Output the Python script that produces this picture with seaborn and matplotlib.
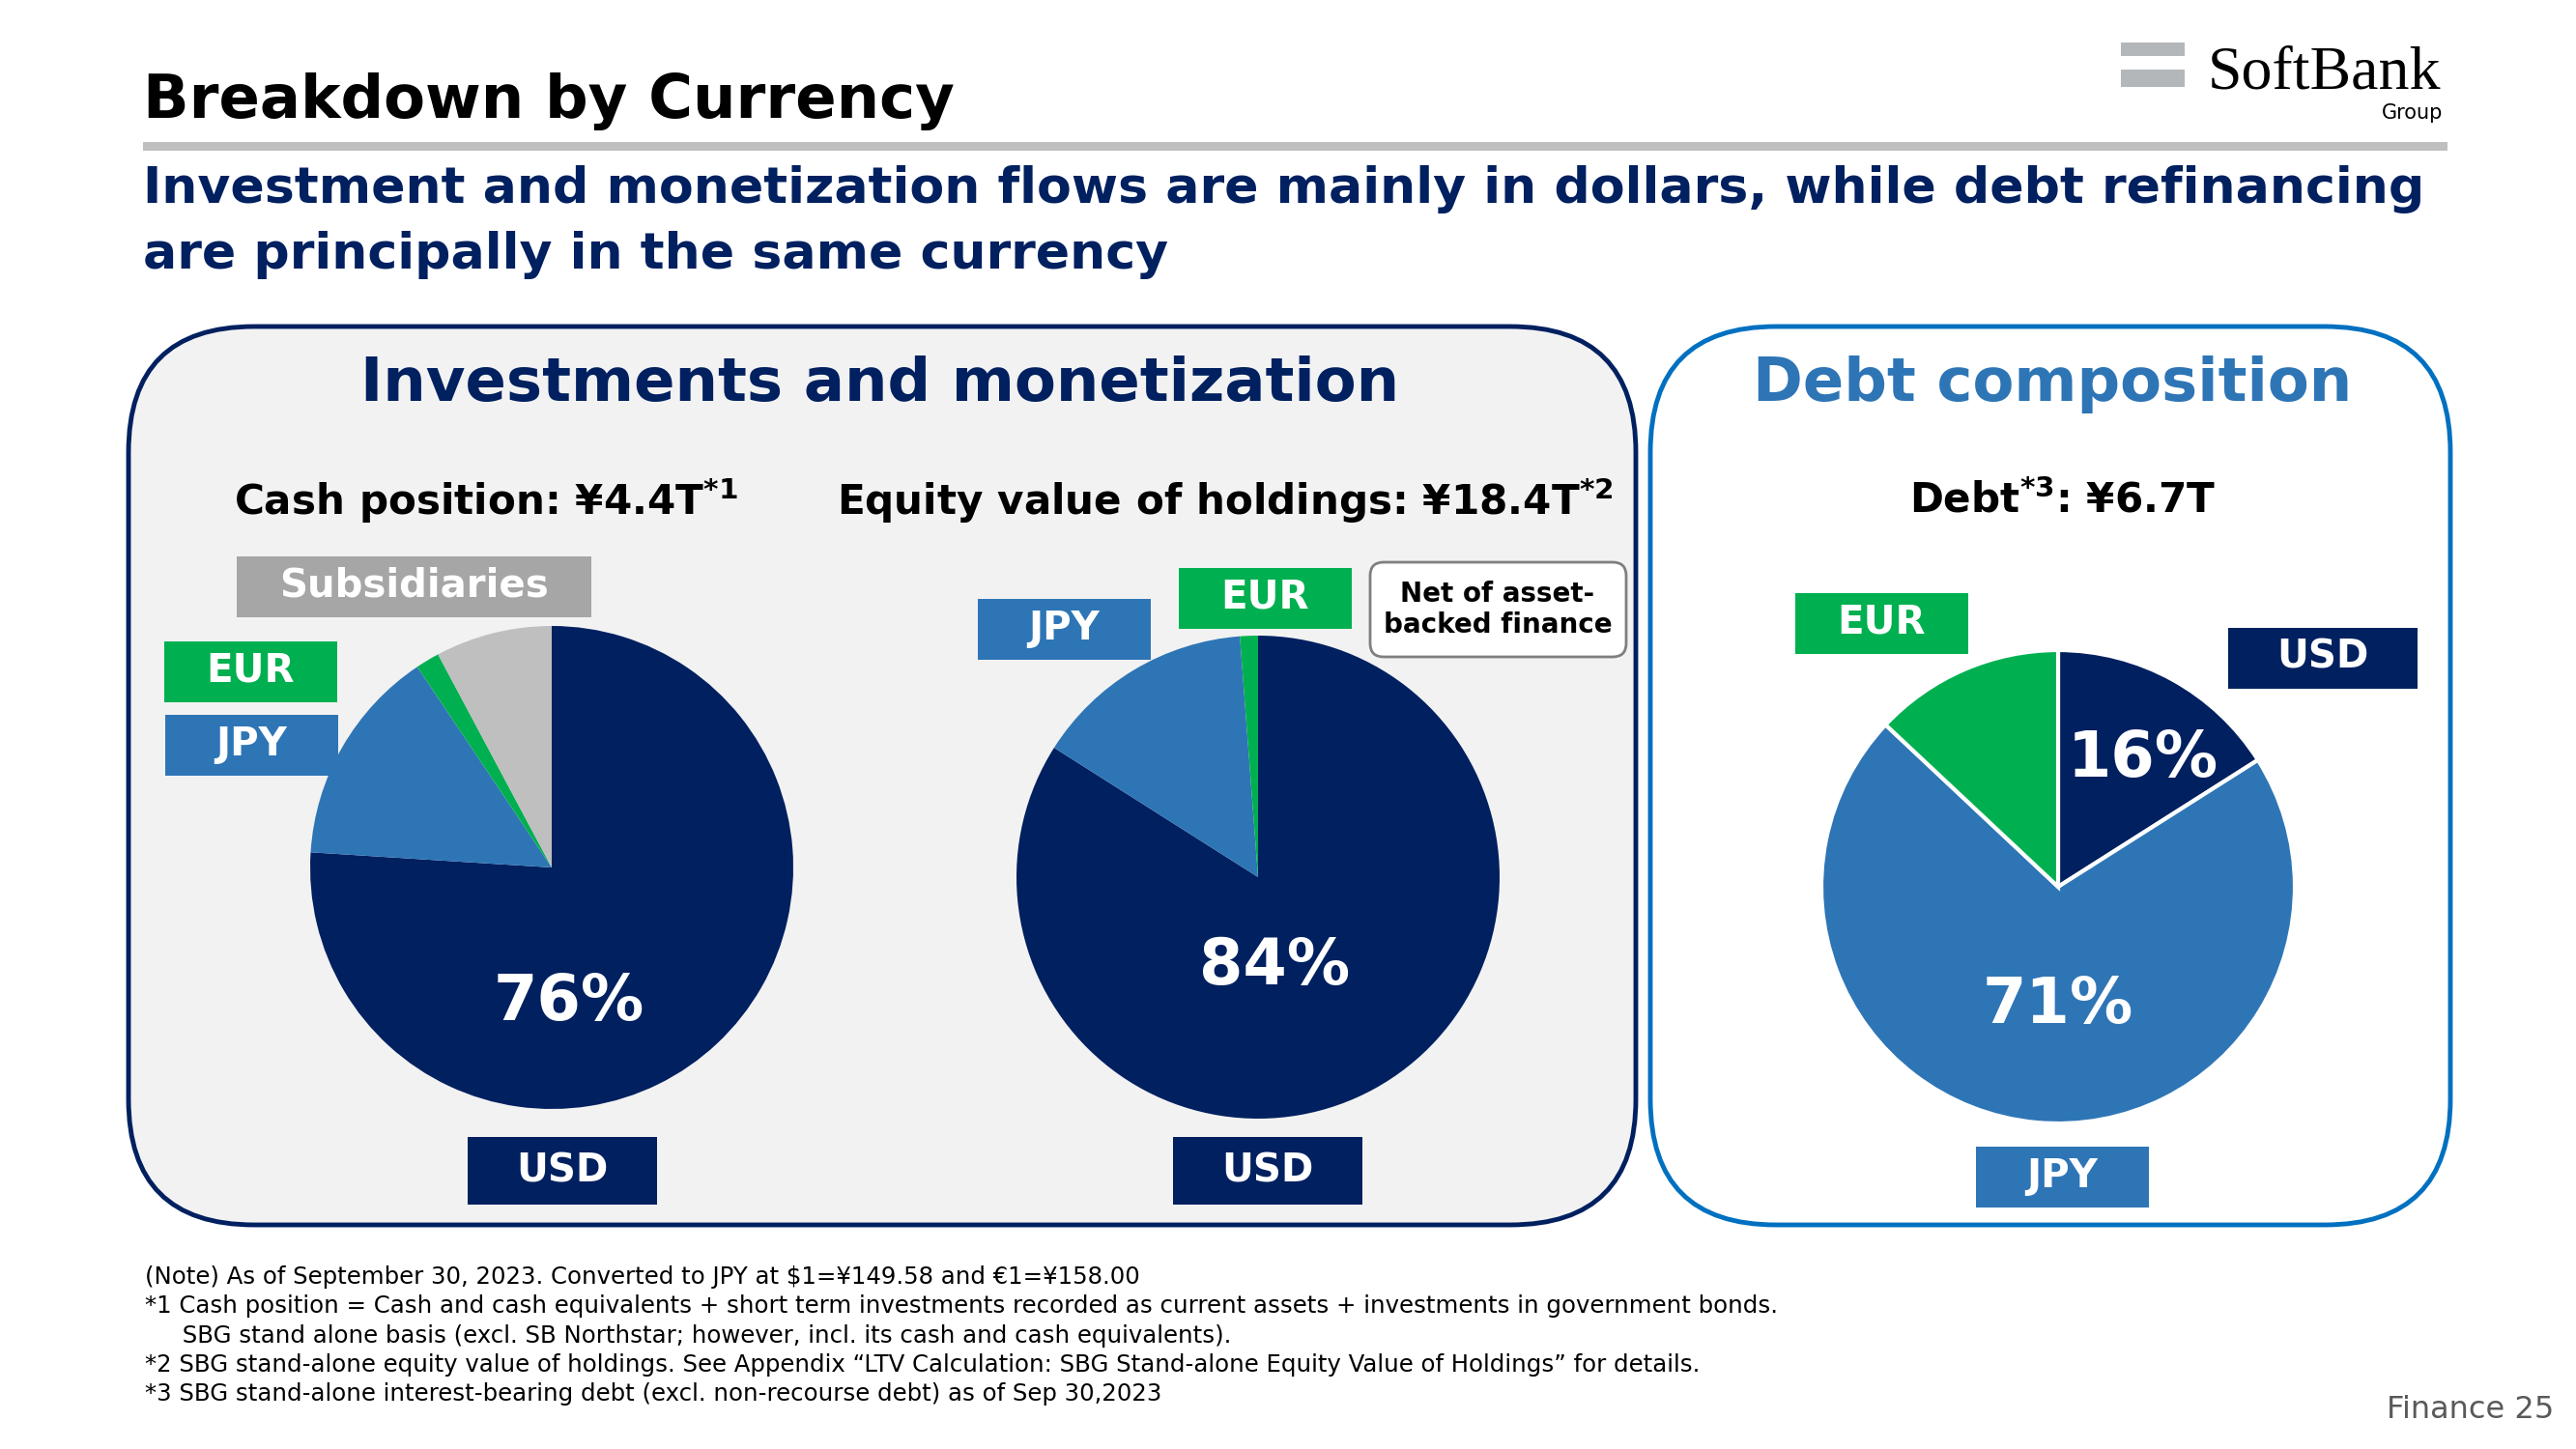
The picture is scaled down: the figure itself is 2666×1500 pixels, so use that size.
import matplotlib
matplotlib.use("Agg")
import matplotlib.pyplot as plt
import seaborn as sns
from matplotlib.patches import FancyBboxPatch, Rectangle

# --- data ---
cash_labels = ["USD", "JPY", "EUR", "Subsidiaries"]
cash_values = [76, 14.6, 1.6, 7.8]
equity_labels = ["USD", "JPY", "EUR"]
equity_values = [84, 14.8, 1.2]
debt_labels = ["USD", "JPY", "EUR"]
debt_values = [16, 71, 13]

footnotes = [
    "(Note) As of September 30, 2023. Converted to JPY at $1=¥149.58 and €1=¥158.00",
    "*1 Cash position = Cash and cash equivalents + short term investments recorded as current assets + investments in government bonds.",
    "     SBG stand alone basis (excl. SB Northstar; however, incl. its cash and cash equivalents).",
    "*2 SBG stand-alone equity value of holdings. See Appendix \u201cLTV Calculation: SBG Stand-alone Equity Value of Holdings\u201d for details.",
    "*3 SBG stand-alone interest-bearing debt (excl. non-recourse debt) as of Sep 30,2023",
]

# --- style ---
navy = "#002060"
jpy_blue = "#2E75B6"
green = "#00B050"
sub_grey = "#BFBFBF"
box_grey = "#A6A6A6"
palette = dict(zip(["USD", "JPY", "EUR", "Subsidiaries"],
                   sns.color_palette([navy, jpy_blue, green, sub_grey])))

sns.set_theme(style="white")
plt.rcParams["font.family"] = ["DejaVu Sans"]
plt.rcParams["mathtext.fontset"] = "dejavusans"
plt.rcParams["text.color"] = "black"

W, H, DPI = 2666, 1500, 100
fig = plt.figure(figsize=(W / DPI, H / DPI), dpi=DPI, facecolor="white")

# background canvas in pixel coords (y down)
bg = fig.add_axes([0, 0, 1, 1])
bg.set_xlim(0, W)
bg.set_ylim(H, 0)
bg.axis("off")

# header
bg.text(148, 105, "Breakdown by Currency", fontsize=45, fontweight="bold", color="black", va="center")
bg.add_patch(Rectangle((148, 147), 2385, 9, fc="#BFBFBF", ec="none"))
bg.text(148, 196, "Investment and monetization flows are mainly in dollars, while debt refinancing",
        fontsize=37.5, fontweight="bold", color=navy, va="center")
bg.text(148, 264, "are principally in the same currency",
        fontsize=37.5, fontweight="bold", color=navy, va="center")

# logo
bg.add_patch(Rectangle((2195, 44), 66, 14, fc="#B4B7BA", ec="none"))
bg.add_patch(Rectangle((2195, 72), 66, 18, fc="#B4B7BA", ec="none"))
bg.text(2526, 92, "SoftBank", family="Liberation Serif", fontsize=46, ha="right", va="baseline", color="black")
bg.text(2528, 117, "Group", fontsize=15, ha="right", va="center", color="black")

# panels
bg.add_patch(FancyBboxPatch((133, 338), 1560, 930, boxstyle="round,pad=0,rounding_size=130",
                            fc="#F2F2F2", ec=navy, lw=3.5))
bg.add_patch(FancyBboxPatch((1708, 338), 828, 930, boxstyle="round,pad=0,rounding_size=130",
                            fc="white", ec="#0070C0", lw=3.5))
bg.text(911, 398, "Investments and monetization", fontsize=45, fontweight="bold", color=navy,
        ha="center", va="center")
bg.text(2124, 398, "Debt composition", fontsize=45, fontweight="bold", color=jpy_blue,
        ha="center", va="center")

bg.text(503, 518, r"Cash position: ¥4.4T$^{\mathbf{*1}}$", fontsize=30.3, fontweight="bold",
        color="black", ha="center", va="center")
bg.text(1268, 518, r"Equity value of holdings: ¥18.4T$^{\mathbf{*2}}$", fontsize=30.3, fontweight="bold",
        color="black", ha="center", va="center")
bg.text(2135, 518, r"Debt$^{\mathbf{*3}}$: ¥6.7T", fontsize=30.3, fontweight="bold",
        color="black", ha="center", va="center")


def label_box(cx, cy, w, h, text, fc, fs=29):
    bg.add_patch(Rectangle((cx - w / 2, cy - h / 2), w, h, fc=fc, ec="none"))
    bg.text(cx, cy, text, fontsize=fs, fontweight="bold", color="white", ha="center", va="center")


def draw_pie(cx, cy, r, values, labels, edge=None):
    ax = fig.add_axes([(cx - r) / W, 1 - (cy + r) / H, 2 * r / W, 2 * r / H])
    wp = dict(edgecolor=edge, linewidth=3) if edge else dict(linewidth=0)
    ax.pie(values, colors=[palette[l] for l in labels], startangle=90, counterclock=False,
           radius=1, wedgeprops=wp)
    ax.set_xlim(-1, 1)
    ax.set_ylim(-1, 1)
    ax.axis("off")
    return ax


def pct(v):
    return f"{v:.0f}%"


# cash position pie
ax1 = draw_pie(571, 898, 250, cash_values, cash_labels)
ax1.text(0.07, -0.56, pct(cash_values[0]), fontsize=47, fontweight="bold", color="white",
         ha="center", va="center")
label_box(428, 607, 367, 63, cash_labels[3], box_grey)
label_box(259, 695, 179, 63, cash_labels[2], palette["EUR"])
label_box(260, 771, 179, 63, cash_labels[1], palette["JPY"])
label_box(582, 1212, 196, 70, cash_labels[0], palette["USD"])

# equity value pie
ax2 = draw_pie(1302, 908, 250, equity_values, equity_labels)
ax2.text(0.07, -0.37, pct(equity_values[0]), fontsize=47, fontweight="bold", color="white",
         ha="center", va="center")
label_box(1101, 651, 179, 63, equity_labels[1], palette["JPY"])
label_box(1309, 619, 179, 63, equity_labels[2], palette["EUR"])
label_box(1312, 1212, 196, 70, equity_labels[0], palette["USD"])
bg.add_patch(FancyBboxPatch((1418, 582), 265, 98, boxstyle="round,pad=0,rounding_size=14",
                            fc="white", ec="#7F7F7F", lw=2))
bg.text(1550, 631, "Net of asset-\nbacked finance", fontsize=20, fontweight="bold",
        color="black", ha="center", va="center", linespacing=1.15)

# debt pie
ax3 = draw_pie(2130, 918, 245, debt_values, debt_labels, edge="white")
ax3.text(0.36, 0.54, pct(debt_values[0]), fontsize=47, fontweight="bold", color="white",
         ha="center", va="center")
ax3.text(0.0, -0.50, pct(debt_values[1]), fontsize=47, fontweight="bold", color="white",
         ha="center", va="center")
label_box(1947, 645, 179, 63, debt_labels[2], palette["EUR"])
label_box(2404, 681, 196, 63, debt_labels[0], palette["USD"])
label_box(2134, 1218, 179, 63, debt_labels[1], palette["JPY"])

# footnotes
for i, line in enumerate(footnotes):
    bg.text(150, 1322 + i * 30.3, line, fontsize=17.6, color="black", va="center")
bg.text(2643, 1459, "Finance 25", fontsize=23, color="#595959", ha="right", va="center")

fig.savefig("out.png", dpi=DPI, facecolor="white")
